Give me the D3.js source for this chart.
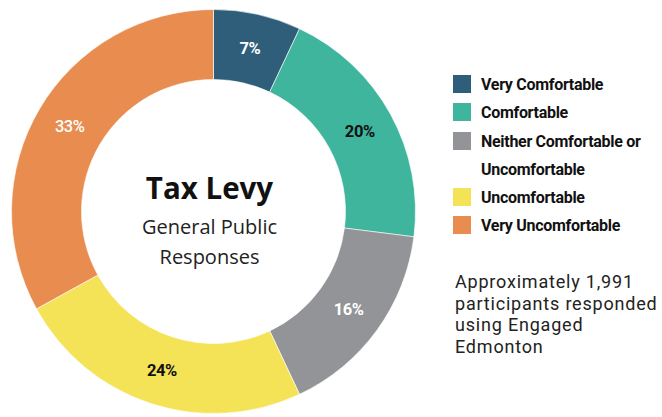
<!DOCTYPE html>
<html>
<head>
<meta charset="utf-8">
<script src="https://cdn.jsdelivr.net/npm/d3@7"></script>
<style>
  html, body { margin: 0; padding: 0; background: #fff; }
  svg { display: block; }
</style>
</head>
<body>
<svg id="chart" width="662" height="417"></svg>
<script>
// Survey response categories and their shares (%)
const categories = ["Very Comfortable", "Comfortable", "Neither Comfortable or Uncomfortable", "Uncomfortable", "Very Uncomfortable"];
const values = [7, 20, 16, 24, 33];
const colors = ["#2E5E7A", "#3EB59C", "#939497", "#F4E257", "#E88C50"];
const labelColors = ["#fff", "#111", "#fff", "#111", "#fff"];
const legendLines = [["Very Comfortable"], ["Comfortable"], ["Neither Comfortable or", "Uncomfortable"], ["Uncomfortable"], ["Very Uncomfortable"]];
const noteLines = ["Approximately 1,991", "participants responded", "using Engaged", "Edmonton"];

const svg = d3.select("#chart");
const cx = 213.5, cy = 211.5, outerR = 202, innerR = 132;

const pie = d3.pie().sort(null).value(d => d.value);
const arcs = pie(categories.map((c, i) => ({ name: c, value: values[i], i })));
const arc = d3.arc().innerRadius(innerR).outerRadius(outerR);
const labelArc = d3.arc().innerRadius((innerR + outerR) / 2).outerRadius((innerR + outerR) / 2);

const g = svg.append("g").attr("transform", `translate(${cx},${cy})`);
g.selectAll("path.slice")
  .data(arcs)
  .join("path")
  .attr("class", "slice")
  .attr("d", arc)
  .attr("fill", d => colors[d.data.i])
  .attr("stroke", "#fff")
  .attr("stroke-width", 0.6);

g.selectAll("text.pct")
  .data(arcs)
  .join("text")
  .attr("class", "pct")
  .attr("transform", d => `translate(${labelArc.centroid(d)})`)
  .attr("text-anchor", "middle")
  .attr("dy", "0.35em")
  .attr("font-family", "Roboto, sans-serif")
  .attr("font-weight", d => d.data.i === 4 ? 500 : 700)
  .attr("font-size", 16.5)
  .attr("letter-spacing", -0.4)
  .attr("fill", d => labelColors[d.data.i])
  .text(d => d.data.value + "%");

// Centre title
const title = g.append("g").attr("transform", "translate(-4,0)");
title.append("text")
  .attr("text-anchor", "middle")
  .attr("y", -13)
  .attr("font-family", "'Open Sans', sans-serif")
  .attr("font-weight", 700)
  .attr("font-size", 29.5)
  .attr("fill", "#111")
  .text("Tax Levy");
title.append("text")
  .attr("text-anchor", "middle")
  .attr("y", 22)
  .attr("font-family", "'Open Sans', sans-serif")
  .attr("font-size", 20)
  .attr("fill", "#222")
  .text("General Public");
title.append("text")
  .attr("text-anchor", "middle")
  .attr("y", 52)
  .attr("font-family", "'Open Sans', sans-serif")
  .attr("font-size", 20)
  .attr("fill", "#222")
  .text("Responses");

// Legend
const legend = svg.append("g").attr("transform", "translate(453,0)");
const rowY = [84, 112, 141, 197, 225];
legendLines.forEach((lines, i) => {
  legend.append("rect")
    .attr("x", 0).attr("y", rowY[i] - 9)
    .attr("width", 18).attr("height", 18)
    .attr("fill", colors[i]);
  lines.forEach((t, j) => {
    legend.append("text")
      .attr("x", 28).attr("y", rowY[i] + j * 28)
      .attr("dy", "0.35em")
      .attr("font-family", "Roboto, sans-serif")
      .attr("font-weight", 700)
      .attr("font-size", 16)
      .attr("letter-spacing", -0.3)
      .attr("fill", "#111")
      .text(t);
  });
});

// Note
svg.append("g").selectAll("text")
  .data(noteLines)
  .join("text")
  .attr("x", 455)
  .attr("y", (d, i) => 288 + i * 21.7)
  .attr("font-family", "Roboto, sans-serif")
  .attr("font-size", 18)
  .attr("letter-spacing", 0.8)
  .attr("fill", "#222")
  .text(d => d);
</script>
</body>
</html>
